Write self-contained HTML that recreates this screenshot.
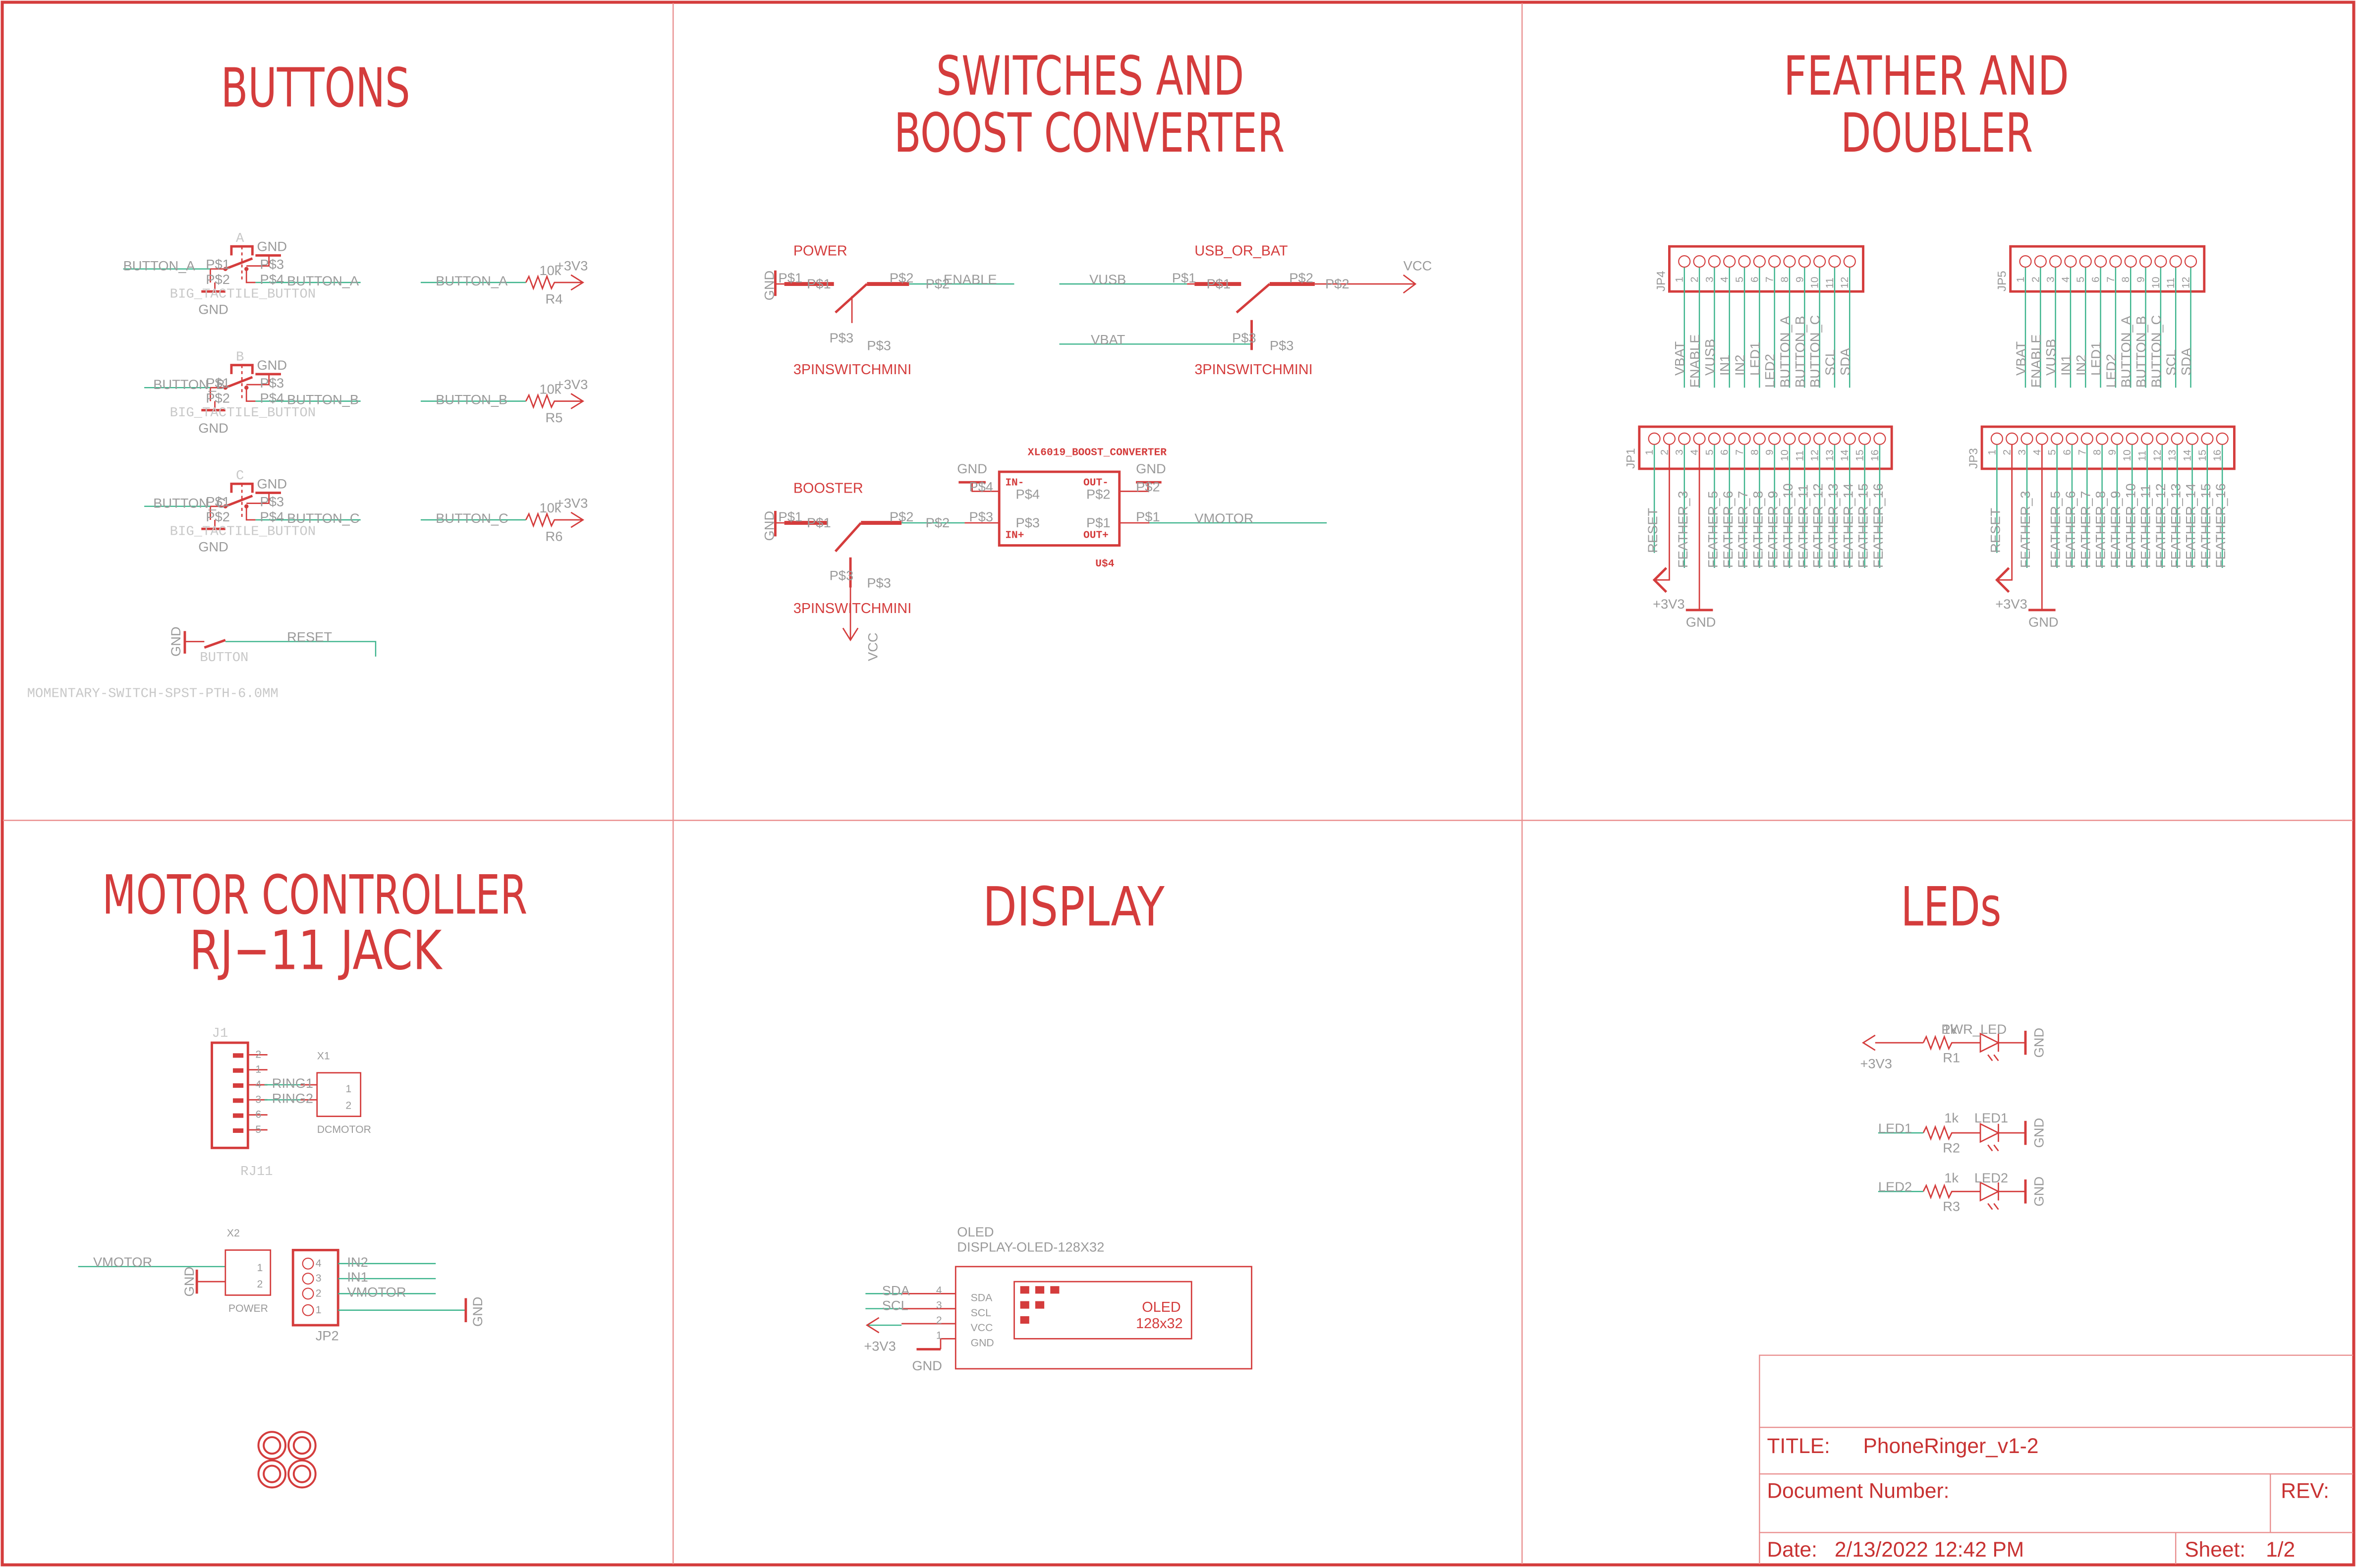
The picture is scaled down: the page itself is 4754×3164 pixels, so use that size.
<!DOCTYPE html>
<html><head><meta charset="utf-8"><style>
html,body{margin:0;padding:0;background:#fff}
svg{display:block}
.g{fill:#9a9a9a;font-family:"Liberation Sans",sans-serif;font-size:9px}
.gs{fill:#9a9a9a;font-family:"Liberation Sans",sans-serif;font-size:7px}
.f{fill:#c8c8c8;font-family:"Liberation Mono",monospace;font-size:9px}
.r{fill:#d43c3c;font-family:"Liberation Sans",sans-serif;font-size:9.5px}
.rb{fill:#d43c3c;font-family:"Liberation Mono",monospace;font-size:7px;font-weight:bold}
.T{fill:#d43c3c;font-family:"DejaVu Sans Condensed","DejaVu Sans",sans-serif;font-size:36px}
.tb{fill:#c83232;font-family:"Liberation Sans",sans-serif;font-size:14px}
.w{stroke:#d43c3c;stroke-width:0.9;fill:none}
.n{stroke:#3cb48c;stroke-width:0.8;fill:none}
.k{stroke:#d43c3c;stroke-width:2.6;fill:none}
.m{stroke:#d43c3c;stroke-width:1.6;fill:none}
.fr{stroke:#e98f8f;stroke-width:0.8;fill:none}
</style></head><body>
<svg width="4754" height="3164" viewBox="0 0 1568 1043.6" preserveAspectRatio="none" xmlns="http://www.w3.org/2000/svg">
<defs>
<g id="p12"><circle cx="0" cy="0" r="3.8"/><circle cx="10" cy="0" r="3.8"/><circle cx="20" cy="0" r="3.8"/><circle cx="30" cy="0" r="3.8"/><circle cx="40" cy="0" r="3.8"/><circle cx="50" cy="0" r="3.8"/><circle cx="60" cy="0" r="3.8"/><circle cx="70" cy="0" r="3.8"/><circle cx="80" cy="0" r="3.8"/><circle cx="90" cy="0" r="3.8"/><circle cx="100" cy="0" r="3.8"/><circle cx="110" cy="0" r="3.8"/></g>
<g id="p4"><circle cx="120" cy="0" r="3.8"/><circle cx="130" cy="0" r="3.8"/><circle cx="140" cy="0" r="3.8"/><circle cx="150" cy="0" r="3.8"/></g>
</defs>
<rect x="1.5" y="1.5" width="1565" height="1040" fill="none" stroke="#d43c3c" stroke-width="2"/>
<path class="fr" d="M448 2V1041M1013 2V1041M2 546H1566"/>
<!-- titles -->
<text class="T" x="147" y="71" textLength="126" lengthAdjust="spacingAndGlyphs">BUTTONS</text>
<text class="T" x="623" y="63" textLength="205" lengthAdjust="spacingAndGlyphs">SWITCHES AND</text>
<text class="T" x="595" y="101" textLength="260" lengthAdjust="spacingAndGlyphs">BOOST CONVERTER</text>
<text class="T" x="1187" y="63" textLength="190" lengthAdjust="spacingAndGlyphs">FEATHER AND</text>
<text class="T" x="1225" y="101" textLength="128" lengthAdjust="spacingAndGlyphs">DOUBLER</text>
<text class="T" x="68" y="608" textLength="283" lengthAdjust="spacingAndGlyphs">MOTOR CONTROLLER</text>
<text class="T" x="126" y="645" textLength="168" lengthAdjust="spacingAndGlyphs">RJ−11 JACK</text>
<text class="T" x="654" y="616" textLength="121" lengthAdjust="spacingAndGlyphs">DISPLAY</text>
<text class="T" x="1265" y="616" textLength="67" lengthAdjust="spacingAndGlyphs">LEDs</text>

<!-- BUTTONS -->
<g id="btnA">
<path class="m" d="M154 170V164H168V170"/>
<path class="w" d="M161 164V186" stroke-dasharray="2,2"/>
<path class="m" d="M170 170H187"/>
<path class="w" d="M179 170V177H164M150 179H140V188M143 188V194M164 179V188H170"/>
<path class="n" d="M96 179H140M170 188H240"/>
<path class="m" d="M150 179L168 172"/>
<circle cx="150" cy="179" r="1.4" fill="#d43c3c"/><circle cx="164" cy="179" r="1.4" fill="#d43c3c"/>
<path class="m" d="M134 194H150"/>
<text class="g" x="171" y="167">GND</text>
<text class="g" x="137" y="179" font-size="8">P$1</text>
<text class="g" x="137" y="189" font-size="8">P$2</text>
<text class="g" x="173" y="179" font-size="8">P$3</text>
<text class="g" x="173" y="189" font-size="8">P$4</text>
<text class="f" x="113" y="198">BIG_TACTILE_BUTTON</text>
<text class="g" x="132" y="209">GND</text>
<path class="n" d="M280 188H350"/>
<path class="w" d="M350 188l2-4l3 8l3-8l3 8l3-8l3 8l2-4H388M380 183L388 188L380 193"/>
<text class="g" x="359" y="183">10k</text>
<text class="g" x="370" y="180">+3V3</text>
</g>
<use href="#btnA" transform="translate(0,79)"/>
<use href="#btnA" transform="translate(0,158)"/>
<path class="n" d="M82 179H96"/>
<text class="f" x="157" y="161" font-size="7">A</text>
<text class="f" x="157" y="240" font-size="7">B</text>
<text class="f" x="157" y="319" font-size="7">C</text>
<text class="g" x="82" y="180">BUTTON_A</text>
<text class="g" x="191" y="190">BUTTON_A</text>
<text class="g" x="290" y="190">BUTTON_A</text>
<text class="g" x="363" y="202">R4</text>
<text class="g" x="102" y="259">BUTTON_B</text>
<text class="g" x="191" y="269">BUTTON_B</text>
<text class="g" x="290" y="269">BUTTON_B</text>
<text class="g" x="363" y="281">R5</text>
<text class="g" x="102" y="338">BUTTON_C</text>
<text class="g" x="191" y="348">BUTTON_C</text>
<text class="g" x="290" y="348">BUTTON_C</text>
<text class="g" x="363" y="360">R6</text>
<!-- reset -->
<path class="m" d="M123 420V435M136 431L150 426"/>
<path class="w" d="M123 427H136"/>
<path class="n" d="M150 427H250V437"/>
<text class="g" transform="translate(120,437) rotate(-90)">GND</text>
<text class="f" x="133" y="440">BUTTON</text>
<text class="g" x="191" y="427">RESET</text>
<text class="f" x="18" y="464">MOMENTARY-SWITCH-SPST-PTH-6.0MM</text>

<!-- SWITCHES -->
<text class="r" x="528" y="170">POWER</text>
<path class="m" d="M516 180V197M556 208L577 189"/>
<path class="k" d="M522 189H555M577 189H605"/>
<path class="w" d="M516 189H522M567 197V215"/>
<path class="n" d="M605 189H675"/>
<text class="g" transform="translate(515,200) rotate(-90)">GND</text>
<text class="g" x="518" y="188" font-size="8">P$1</text>
<text class="g" x="537" y="192" font-size="8">P$1</text>
<text class="g" x="592" y="188" font-size="8">P$2</text>
<text class="g" x="616" y="192" font-size="8">P$2</text>
<text class="g" x="628" y="189">ENABLE</text>
<text class="g" x="552" y="228" font-size="8">P$3</text>
<text class="g" x="577" y="233" font-size="8">P$3</text>
<text class="r" x="528" y="249">3PINSWITCHMINI</text>

<text class="r" x="795" y="170">USB_OR_BAT</text>
<path class="n" d="M705 189H790M705 229H833"/>
<path class="k" d="M795 189H826M845 189H875"/>
<path class="m" d="M823 208L845 189M833 213V233"/>
<path class="w" d="M790 189H795M875 189H942M934 183L942 189L934 195"/>
<text class="g" x="725" y="189">VUSB</text>
<text class="g" x="780" y="188" font-size="8">P$1</text>
<text class="g" x="803" y="192" font-size="8">P$1</text>
<text class="g" x="858" y="188" font-size="8">P$2</text>
<text class="g" x="882" y="192" font-size="8">P$2</text>
<text class="g" x="934" y="180">VCC</text>
<text class="g" x="726" y="229">VBAT</text>
<text class="g" x="820" y="228" font-size="8">P$3</text>
<text class="g" x="845" y="233" font-size="8">P$3</text>
<text class="r" x="795" y="249">3PINSWITCHMINI</text>

<text class="r" x="528" y="328">BOOSTER</text>
<path class="m" d="M516 340V357M556 367L573 348M566 371V391"/>
<path class="k" d="M522 348H551M573 348H600"/>
<path class="w" d="M516 348H522M566 391V426M561 418L566 426L571 418M642 348H665M647 321V327H665M745 327H764V321M745 348H765"/>
<path class="n" d="M600 348H642M765 348H883"/>
<text class="g" transform="translate(515,360) rotate(-90)">GND</text>
<text class="g" x="518" y="347" font-size="8">P$1</text>
<text class="g" x="537" y="351" font-size="8">P$1</text>
<text class="g" x="592" y="347" font-size="8">P$2</text>
<text class="g" x="616" y="351" font-size="8">P$2</text>
<text class="g" x="645" y="347" font-size="8">P$3</text>
<text class="g" x="552" y="386" font-size="8">P$3</text>
<text class="g" x="577" y="391" font-size="8">P$3</text>
<text class="r" x="528" y="408">3PINSWITCHMINI</text>
<text class="g" transform="translate(584,440) rotate(-90)">VCC</text>
<rect x="665" y="314" width="80" height="49" class="m" stroke-width="2"/>
<text class="rb" x="684" y="303">XL6019_BOOST_CONVERTER</text>
<path class="m" d="M638 321H656M756 321H773"/>
<text class="g" x="637" y="315">GND</text>
<text class="g" x="756" y="315">GND</text>
<text class="g" x="645" y="327" font-size="8">P$4</text>
<text class="g" x="756" y="327" font-size="8">P$2</text>
<text class="g" x="756" y="347" font-size="8">P$1</text>
<text class="rb" x="669" y="323">IN-</text>
<text class="rb" x="721" y="323">OUT-</text>
<text class="rb" x="669" y="358">IN+</text>
<text class="rb" x="721" y="358">OUT+</text>
<text class="g" x="676" y="332" font-size="8">P$4</text>
<text class="g" x="723" y="332" font-size="8">P$2</text>
<text class="g" x="676" y="351" font-size="8">P$3</text>
<text class="g" x="723" y="351" font-size="8">P$1</text>
<text class="g" x="795" y="348">VMOTOR</text>
<text class="rb" x="729" y="377">U$4</text>

<!-- FEATHER headers -->
<g fill="none" stroke="#d43c3c" stroke-width="0.7">
<use href="#p12" transform="translate(1121,174)"/>
<use href="#p12" transform="translate(1348,174)"/>
<use href="#p12" transform="translate(1101,292)"/><use href="#p4" transform="translate(1101,292)"/>
<use href="#p12" transform="translate(1329,292)"/><use href="#p4" transform="translate(1329,292)"/>
</g>
<rect x="1111" y="164" width="129" height="30" class="m" stroke-width="2.2"/>
<rect x="1338" y="164" width="129" height="30" class="m" stroke-width="2.2"/>
<rect x="1091" y="284" width="168" height="28" class="m" stroke-width="2.2"/>
<rect x="1319" y="284" width="168" height="28" class="m" stroke-width="2.2"/>
<path class="n" d="M1121 178V258M1131 178V258M1141 178V258M1151 178V258M1161 178V258M1171 178V258M1181 178V258M1191 178V258M1201 178V258M1211 178V258M1221 178V258M1231 178V258"/>
<path class="n" d="M1348 178V258M1358 178V258M1368 178V258M1378 178V258M1388 178V258M1398 178V258M1408 178V258M1418 178V258M1428 178V258M1438 178V258M1448 178V258M1458 178V258"/>
<path class="n" d="M1101 296V368M1121 296V378M1141 296V378M1151 296V378M1161 296V378M1171 296V378M1181 296V378M1191 296V378M1201 296V378M1211 296V378M1221 296V378M1231 296V378M1241 296V378M1251 296V378"/>
<path class="w" d="M1111 296V386H1101M1131 296V406"/>
<path class="m" d="M1109 378L1101 386L1109 394M1122 406H1140"/>
<path class="n" d="M1329 296V368M1349 296V378M1369 296V378M1379 296V378M1389 296V378M1399 296V378M1409 296V378M1419 296V378M1429 296V378M1439 296V378M1449 296V378M1459 296V378M1469 296V378M1479 296V378"/>
<path class="w" d="M1339 296V386H1329M1359 296V406"/>
<path class="m" d="M1337 378L1329 386L1337 394M1350 406H1368"/>
<g class="gs">
<text transform="translate(1108,194) rotate(-90)" font-size="8">JP4</text>
<text transform="translate(1335,194) rotate(-90)" font-size="8">JP5</text>
<text transform="translate(1088,312) rotate(-90)" font-size="8">JP1</text>
<text transform="translate(1316,312) rotate(-90)" font-size="8">JP3</text>
</g>
<g class="gs">
<text transform="translate(1120,188) rotate(-90)">1</text><text transform="translate(1130,188) rotate(-90)">2</text><text transform="translate(1140,188) rotate(-90)">3</text><text transform="translate(1150,188) rotate(-90)">4</text><text transform="translate(1160,188) rotate(-90)">5</text><text transform="translate(1170,188) rotate(-90)">6</text><text transform="translate(1180,188) rotate(-90)">7</text><text transform="translate(1190,188) rotate(-90)">8</text><text transform="translate(1200,188) rotate(-90)">9</text><text transform="translate(1210,192) rotate(-90)">10</text><text transform="translate(1220,192) rotate(-90)">11</text><text transform="translate(1230,192) rotate(-90)">12</text>
<text transform="translate(1347,188) rotate(-90)">1</text><text transform="translate(1357,188) rotate(-90)">2</text><text transform="translate(1367,188) rotate(-90)">3</text><text transform="translate(1377,188) rotate(-90)">4</text><text transform="translate(1387,188) rotate(-90)">5</text><text transform="translate(1397,188) rotate(-90)">6</text><text transform="translate(1407,188) rotate(-90)">7</text><text transform="translate(1417,188) rotate(-90)">8</text><text transform="translate(1427,188) rotate(-90)">9</text><text transform="translate(1437,192) rotate(-90)">10</text><text transform="translate(1447,192) rotate(-90)">11</text><text transform="translate(1457,192) rotate(-90)">12</text>
<text transform="translate(1100,303) rotate(-90)">1</text><text transform="translate(1110,303) rotate(-90)">2</text><text transform="translate(1120,303) rotate(-90)">3</text><text transform="translate(1130,303) rotate(-90)">4</text><text transform="translate(1140,303) rotate(-90)">5</text><text transform="translate(1150,303) rotate(-90)">6</text><text transform="translate(1160,303) rotate(-90)">7</text><text transform="translate(1170,303) rotate(-90)">8</text><text transform="translate(1180,303) rotate(-90)">9</text><text transform="translate(1190,307) rotate(-90)">10</text><text transform="translate(1200,307) rotate(-90)">11</text><text transform="translate(1210,307) rotate(-90)">12</text><text transform="translate(1220,307) rotate(-90)">13</text><text transform="translate(1230,307) rotate(-90)">14</text><text transform="translate(1240,307) rotate(-90)">15</text><text transform="translate(1250,307) rotate(-90)">16</text>
<text transform="translate(1328,303) rotate(-90)">1</text><text transform="translate(1338,303) rotate(-90)">2</text><text transform="translate(1348,303) rotate(-90)">3</text><text transform="translate(1358,303) rotate(-90)">4</text><text transform="translate(1368,303) rotate(-90)">5</text><text transform="translate(1378,303) rotate(-90)">6</text><text transform="translate(1388,303) rotate(-90)">7</text><text transform="translate(1398,303) rotate(-90)">8</text><text transform="translate(1408,303) rotate(-90)">9</text><text transform="translate(1418,307) rotate(-90)">10</text><text transform="translate(1428,307) rotate(-90)">11</text><text transform="translate(1438,307) rotate(-90)">12</text><text transform="translate(1448,307) rotate(-90)">13</text><text transform="translate(1458,307) rotate(-90)">14</text><text transform="translate(1468,307) rotate(-90)">15</text><text transform="translate(1478,307) rotate(-90)">16</text>
</g>
<g class="g">
<text transform="translate(1121,250) rotate(-90)">VBAT</text><text transform="translate(1131,258) rotate(-90)">ENABLE</text><text transform="translate(1141,250) rotate(-90)">VUSB</text><text transform="translate(1151,250) rotate(-90)">IN1</text><text transform="translate(1161,250) rotate(-90)">IN2</text><text transform="translate(1171,250) rotate(-90)">LED1</text><text transform="translate(1181,258) rotate(-90)">LED2</text><text transform="translate(1191,258) rotate(-90)">BUTTON_A</text><text transform="translate(1201,258) rotate(-90)">BUTTON_B</text><text transform="translate(1211,258) rotate(-90)">BUTTON_C</text><text transform="translate(1221,250) rotate(-90)">SCL</text><text transform="translate(1231,250) rotate(-90)">SDA</text>
<text transform="translate(1348,250) rotate(-90)">VBAT</text><text transform="translate(1358,258) rotate(-90)">ENABLE</text><text transform="translate(1368,250) rotate(-90)">VUSB</text><text transform="translate(1378,250) rotate(-90)">IN1</text><text transform="translate(1388,250) rotate(-90)">IN2</text><text transform="translate(1398,250) rotate(-90)">LED1</text><text transform="translate(1408,258) rotate(-90)">LED2</text><text transform="translate(1418,258) rotate(-90)">BUTTON_A</text><text transform="translate(1428,258) rotate(-90)">BUTTON_B</text><text transform="translate(1438,258) rotate(-90)">BUTTON_C</text><text transform="translate(1448,250) rotate(-90)">SCL</text><text transform="translate(1458,250) rotate(-90)">SDA</text>
<text transform="translate(1103,368) rotate(-90)">RESET</text>
<text transform="translate(1123,378) rotate(-90)">FEATHER_3</text><text transform="translate(1143,378) rotate(-90)">FEATHER_5</text><text transform="translate(1153,378) rotate(-90)">FEATHER_6</text><text transform="translate(1163,378) rotate(-90)">FEATHER_7</text><text transform="translate(1173,378) rotate(-90)">FEATHER_8</text><text transform="translate(1183,378) rotate(-90)">FEATHER_9</text><text transform="translate(1193,378) rotate(-90)">FEATHER_10</text><text transform="translate(1203,378) rotate(-90)">FEATHER_11</text><text transform="translate(1213,378) rotate(-90)">FEATHER_12</text><text transform="translate(1223,378) rotate(-90)">FEATHER_13</text><text transform="translate(1233,378) rotate(-90)">FEATHER_14</text><text transform="translate(1243,378) rotate(-90)">FEATHER_15</text><text transform="translate(1253,378) rotate(-90)">FEATHER_16</text>
<text transform="translate(1331,368) rotate(-90)">RESET</text>
<text transform="translate(1351,378) rotate(-90)">FEATHER_3</text><text transform="translate(1371,378) rotate(-90)">FEATHER_5</text><text transform="translate(1381,378) rotate(-90)">FEATHER_6</text><text transform="translate(1391,378) rotate(-90)">FEATHER_7</text><text transform="translate(1401,378) rotate(-90)">FEATHER_8</text><text transform="translate(1411,378) rotate(-90)">FEATHER_9</text><text transform="translate(1421,378) rotate(-90)">FEATHER_10</text><text transform="translate(1431,378) rotate(-90)">FEATHER_11</text><text transform="translate(1441,378) rotate(-90)">FEATHER_12</text><text transform="translate(1451,378) rotate(-90)">FEATHER_13</text><text transform="translate(1461,378) rotate(-90)">FEATHER_14</text><text transform="translate(1471,378) rotate(-90)">FEATHER_15</text><text transform="translate(1481,378) rotate(-90)">FEATHER_16</text>
<text x="1100" y="405">+3V3</text><text x="1122" y="417">GND</text>
<text x="1328" y="405">+3V3</text><text x="1350" y="417">GND</text>
</g>

<!-- MOTOR -->
<rect x="141" y="694" width="24" height="70" class="m" stroke-width="2"/>
<g fill="#d43c3c"><rect x="155" y="701" width="7" height="3"/><rect x="155" y="711" width="7" height="3"/><rect x="155" y="721" width="7" height="3"/><rect x="155" y="731" width="7" height="3"/><rect x="155" y="741" width="7" height="3"/><rect x="155" y="751" width="7" height="3"/></g>
<path class="w" d="M165 702H178M165 712H178M165 722H178M165 732H178M165 742H178M165 752H178M200 722H211M200 732H211"/>
<path class="n" d="M176 722H200M176 732H200"/>
<text class="f" x="141" y="690" font-size="8">J1</text>
<g class="gs" font-size="8"><text x="170" y="704">2</text><text x="170" y="714">1</text><text x="170" y="724">4</text><text x="170" y="734">3</text><text x="170" y="744">6</text><text x="170" y="754">5</text></g>
<text class="g" x="181" y="724">RING1</text><text class="g" x="181" y="734">RING2</text>
<text class="f" x="160" y="782">RJ11</text>
<rect x="211" y="714" width="29" height="29" class="w"/>
<text class="gs" x="211" y="705" font-size="6">X1</text>
<text class="gs" x="230" y="727">1</text><text class="gs" x="230" y="738">2</text>
<text class="gs" x="211" y="754" font-size="6">DCMOTOR</text>
<path class="n" d="M52 843H150"/>
<text class="g" x="62" y="843">VMOTOR</text>
<text class="gs" x="151" y="823" font-size="6">X2</text>
<rect x="150" y="832" width="30" height="30" class="w"/>
<text class="gs" x="171" y="846">1</text><text class="gs" x="171" y="857">2</text>
<path class="m" d="M131 845V861"/><path class="w" d="M131 853H150"/>
<text class="g" transform="translate(129,863) rotate(-90)">GND</text>
<text class="gs" x="152" y="873" font-size="6">POWER</text>
<rect x="195" y="832" width="30" height="50" class="m" stroke-width="2"/>
<g fill="none" stroke="#d43c3c" stroke-width="0.7"><circle cx="205" cy="841" r="3.6"/><circle cx="205" cy="851" r="3.6"/><circle cx="205" cy="861" r="3.6"/><circle cx="205" cy="872" r="3.6"/></g>
<g class="gs" font-size="8"><text x="210" y="843">4</text><text x="210" y="853">3</text><text x="210" y="863">2</text><text x="210" y="874">1</text></g>
<path class="n" d="M225 841H290M225 851H290M225 861H290M225 872H310"/>
<path class="m" d="M310 864V880"/>
<text class="g" x="231" y="843">IN2</text><text class="g" x="231" y="853">IN1</text><text class="g" x="231" y="863">VMOTOR</text>
<text class="g" transform="translate(321,883) rotate(-90)">GND</text>
<text class="g" x="210" y="892">JP2</text>
<g fill="none" stroke="#d43c3c" stroke-width="1.3">
<circle cx="181" cy="962" r="9"/><circle cx="181" cy="962" r="5.5"/><circle cx="201" cy="962" r="9"/><circle cx="201" cy="962" r="5.5"/>
<circle cx="181" cy="981" r="9"/><circle cx="181" cy="981" r="5.5"/><circle cx="201" cy="981" r="9"/><circle cx="201" cy="981" r="5.5"/></g>

<!-- DISPLAY -->
<text class="g" x="637" y="823">OLED</text>
<text class="g" x="637" y="833">DISPLAY-OLED-128X32</text>
<rect x="636" y="843" width="197" height="68" class="w" stroke-width="1.4"/>
<rect x="675" y="853" width="118" height="38" class="w" stroke-width="1.2"/>
<g fill="#d43c3c"><rect x="679" y="856" width="6" height="5"/><rect x="689" y="856" width="6" height="5"/><rect x="699" y="856" width="6" height="5"/><rect x="679" y="866" width="6" height="5"/><rect x="689" y="866" width="6" height="5"/><rect x="679" y="876" width="6" height="5"/></g>
<text class="r" x="760" y="873">OLED</text><text class="r" x="756" y="884">128x32</text>
<path class="w" d="M600 861H636M600 871H636M600 881H636M626 891H636M626 891V898"/>
<path class="n" d="M576 861H600M576 871H600M577 882H600"/>
<path class="w" d="M585 877L577 882L585 887"/>
<path class="m" d="M610 898H626"/>
<g class="gs" font-size="8"><text x="623" y="861">4</text><text x="623" y="871">3</text><text x="623" y="881">2</text><text x="623" y="891">1</text>
<text x="646" y="866">SDA</text><text x="646" y="876">SCL</text><text x="646" y="886">VCC</text><text x="646" y="896">GND</text></g>
<text class="g" x="587" y="862">SDA</text><text class="g" x="587" y="872">SCL</text>
<text class="g" x="575" y="899">+3V3</text><text class="g" x="607" y="912">GND</text>

<!-- LEDs -->
<g id="led">
<path class="w" d="M1280 694l2-4l3 8l3-8l3 8l3-8l3 8l2-4H1318M1318 688V700L1330 694Z M1330 688V700M1330 694H1348"/>
<path class="m" d="M1348 686V702"/>
<path class="w" d="M1323 702l3 4M1327 702l3 4" stroke-width="0.7"/>
</g>
<path class="w" d="M1248 694H1280M1248 689L1240 694L1248 699"/>
<use href="#led" transform="translate(0,60)"/>
<use href="#led" transform="translate(0,99)"/>
<path class="n" d="M1250 754H1280M1250 793H1280"/>
<text class="g" transform="translate(1360,704) rotate(-90)">GND</text>
<text class="g" transform="translate(1360,764) rotate(-90)">GND</text>
<text class="g" transform="translate(1360,803) rotate(-90)">GND</text>
<text class="g" x="1238" y="711">+3V3</text>
<text class="g" x="1293" y="688">1k</text><text class="g" x="1292" y="688">PWR_LED</text>
<text class="g" x="1293" y="707">R1</text>
<text class="g" x="1250" y="754">LED1</text><text class="g" x="1294" y="747">1k</text><text class="g" x="1314" y="747">LED1</text><text class="g" x="1293" y="767">R2</text>
<text class="g" x="1250" y="793">LED2</text><text class="g" x="1294" y="787">1k</text><text class="g" x="1314" y="787">LED2</text><text class="g" x="1293" y="806">R3</text>

<!-- title block -->
<path class="fr" stroke-width="1" d="M1171 1041V902H1566M1171 950H1566M1171 981H1566M1171 1020H1566M1511 981V1020M1448 1020V1041"/>
<text class="tb" x="1176" y="967">TITLE:</text>
<text class="tb" x="1240" y="967">PhoneRinger_v1-2</text>
<text class="tb" x="1176" y="997">Document Number:</text>
<text class="tb" x="1518" y="997">REV:</text>
<text class="tb" x="1176" y="1036">Date:</text>
<text class="tb" x="1221" y="1036">2/13/2022 12:42 PM</text>
<text class="tb" x="1454" y="1036">Sheet:</text>
<text class="tb" x="1508" y="1036">1/2</text>
</svg>
</body></html>
